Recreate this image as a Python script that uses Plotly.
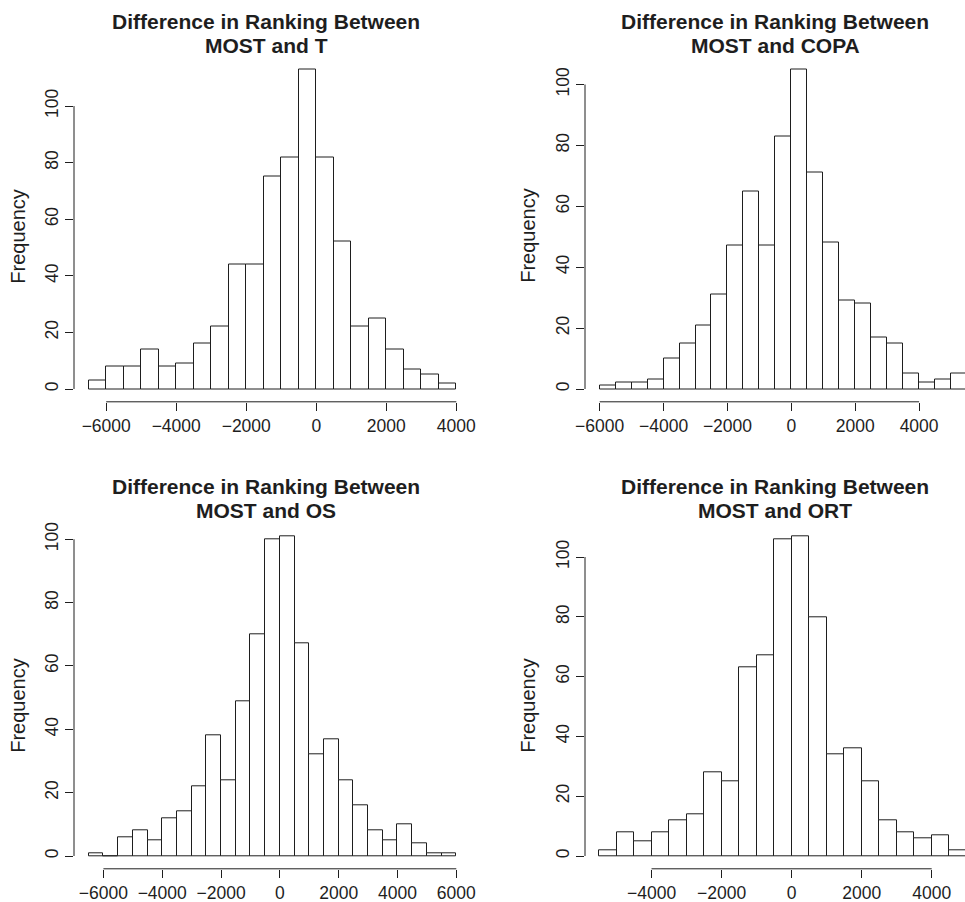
import plotly.graph_objects as go

# ---------------- data ----------------
bin_width = 500

t_start = -6500
t_counts = [3, 8, 8, 14, 8, 9, 16, 22, 44, 44, 75, 82, 113, 82, 52, 22, 25, 14, 7, 5, 2]

copa_start = -6000
copa_counts = [1, 2, 2, 3, 10, 15, 21, 31, 47, 65, 47, 83, 105, 71, 48, 29, 28, 17, 15, 5, 2, 3, 5]

os_start = -6500
os_counts = [1, 0, 6, 8, 5, 12, 14, 22, 38, 24, 49, 70, 100, 101, 67, 32, 37, 24, 16, 8, 5, 10, 4, 1, 1]

ort_start = -5500
ort_counts = [2, 8, 5, 8, 12, 14, 28, 25, 63, 67, 106, 107, 80, 34, 36, 25, 12, 8, 6, 7, 2]

title_line1 = "Difference in Ranking Between"
panel_names = ["MOST and T", "MOST and COPA", "MOST and OS", "MOST and ORT"]
y_label = "Frequency"

y_ticks = [0, 20, 40, 60, 80, 100]
x_ticks_t = [-6000, -4000, -2000, 0, 2000, 4000]
x_ticks_copa = [-6000, -4000, -2000, 0, 2000, 4000]
x_ticks_os = [-6000, -4000, -2000, 0, 2000, 4000, 6000]
x_ticks_ort = [-4000, -2000, 0, 2000, 4000]

# ---------------- layout geometry ----------------
W, H = 965, 902
INK = "#1e1e1e"
FONT = "Liberation Sans, Arial, Helvetica, sans-serif"


def px_x(p):
    return p / W


def px_y(p):
    return 1 - p / H


col_dom = [[px_x(74), px_x(471)], [px_x(585), 1.0]]
row_dom = [[px_y(401.8), px_y(56.5)], [px_y(868.8), px_y(523.3)]]

panels = [
    dict(start=t_start, counts=t_counts, xticks=x_ticks_t, xr=[-6920, 4420], yr=[-4.52, 117.52],
         col=0, row=0, tx=266, ty=(21.7, 45.8), fx=18, fy=236.7),
    dict(start=copa_start, counts=copa_counts, xticks=x_ticks_copa, xr=[-6460, 5437], yr=[-4.2, 109.2],
         col=1, row=0, tx=775, ty=(21.7, 45.8), fx=528, fy=235.8),
    dict(start=os_start, counts=os_counts, xticks=x_ticks_os, xr=[-7000, 6500], yr=[-4.04, 105.04],
         col=0, row=1, tx=266, ty=(486.7, 510.8), fx=18, fy=705.8),
    dict(start=ort_start, counts=ort_counts, xticks=x_ticks_ort, xr=[-5900, 4951], yr=[-4.28, 111.28],
         col=1, row=1, tx=775, ty=(486.7, 510.8), fx=528, fy=705.8),
]


def to_paper(v, rng, dom):
    return dom[0] + (v - rng[0]) / (rng[1] - rng[0]) * (dom[1] - dom[0])


fig = go.Figure()
layout = dict(
    width=W, height=H,
    margin=dict(l=0, r=0, t=0, b=0),
    paper_bgcolor="white", plot_bgcolor="white",
    showlegend=False, bargap=0,
    font=dict(family=FONT, color=INK),
)
annotations = []
shapes = []

for i, p in enumerate(panels):
    n = i + 1
    sfx = "" if n == 1 else str(n)
    xa, ya = "x" + sfx, "y" + sfx
    xd, yd = col_dom[p["col"]], row_dom[p["row"]]
    centers = [p["start"] + bin_width * (k + 0.5) for k in range(len(p["counts"]))]
    fig.add_trace(go.Bar(
        x=centers, y=p["counts"], width=bin_width,
        marker=dict(color="white", line=dict(color=INK, width=1)),
        xaxis=xa, yaxis=ya, hoverinfo="x+y",
    ))
    layout["xaxis" + sfx] = dict(
        domain=xd, range=p["xr"], anchor=ya,
        tickmode="array", tickvals=p["xticks"],
        ticks="outside", ticklen=8, tickwidth=1, tickcolor=INK,
        showline=False, showgrid=False, zeroline=False,
        tickfont=dict(size=17.5, family=FONT, color=INK),
        fixedrange=True, automargin=False,
    )
    layout["yaxis" + sfx] = dict(
        domain=yd, range=p["yr"], anchor=xa,
        tickmode="array", tickvals=y_ticks, tickangle=-90,
        ticks="outside", ticklen=8, tickwidth=1, tickcolor=INK,
        showline=False, showgrid=False, zeroline=False,
        tickfont=dict(size=17.5, family=FONT, color=INK),
        fixedrange=True, automargin=False,
    )
    # R-style axis lines spanning only the tick range (paper coords from axis mapping)
    shapes.append(dict(type="line", xref="paper", yref="paper",
                       x0=to_paper(min(p["xticks"]), p["xr"], xd),
                       x1=to_paper(max(p["xticks"]), p["xr"], xd),
                       y0=yd[0], y1=yd[0],
                       line=dict(color=INK, width=1)))
    shapes.append(dict(type="line", xref="paper", yref="paper",
                       x0=xd[0], x1=xd[0],
                       y0=to_paper(min(y_ticks), p["yr"], yd),
                       y1=to_paper(max(y_ticks), p["yr"], yd),
                       line=dict(color=INK, width=1)))
    # two-line bold title
    for text, yy in zip([title_line1, panel_names[i]], p["ty"]):
        annotations.append(dict(
            text="<b>" + text + "</b>", xref="paper", yref="paper",
            x=px_x(p["tx"]), y=px_y(yy), xanchor="center", yanchor="middle",
            showarrow=False, font=dict(size=21, family=FONT, color=INK),
        ))
    annotations.append(dict(
        text=y_label, xref="paper", yref="paper",
        x=px_x(p["fx"]), y=px_y(p["fy"]), xanchor="center", yanchor="middle",
        textangle=-90, showarrow=False, font=dict(size=20, family=FONT, color=INK),
    ))

layout["annotations"] = annotations
layout["shapes"] = shapes
fig.update_layout(**layout)
fig.write_html(
    "out.html",
    config={"displayModeBar": False},
    post_script="document.body.style.margin='0px';document.body.style.overflow='hidden';",
)
